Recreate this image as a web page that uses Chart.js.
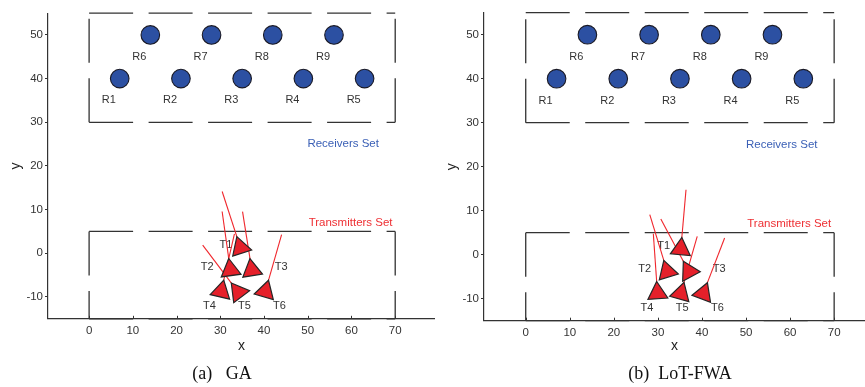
<!DOCTYPE html>
<html>
<head>
<meta charset="utf-8">
<script src="https://cdn.jsdelivr.net/npm/chart.js@4.4.1/dist/chart.umd.min.js"></script>
<style>
  html, body { margin: 0; padding: 0; background: #fff; }
  body { width: 865px; height: 387px; position: relative; overflow: hidden; }
  .panel { position: absolute; top: 0; height: 387px; }
  .caption { position: absolute; top: 363px; font: 18px "Liberation Serif", "DejaVu Serif", serif; color: #111; transform: translateX(-50%); white-space: pre; }
</style>
</head>
<body>
<div class="panel" style="left:0;width:435px"><canvas id="ga" width="435" height="387"></canvas></div>
<div class="panel" style="left:436px;width:429px"><canvas id="fwa" width="429" height="387"></canvas></div>
<div class="caption" style="left:222px">(a)&nbsp;&nbsp; GA</div>
<div class="caption" style="left:680px">(b)&nbsp; LoT-FWA</div>
<script>
// axis ticks
const xTicks = [0, 10, 20, 30, 40, 50, 60, 70];
const yTicks = [-10, 0, 10, 20, 30, 40, 50];

// receivers, same layout in both panels
const rxNames = ['R1', 'R2', 'R3', 'R4', 'R5', 'R6', 'R7', 'R8', 'R9'];
const rxX = [7, 21, 35, 49, 63, 14, 28, 42, 56];
const rxY = [40, 40, 40, 40, 40, 50, 50, 50, 50];

// boundaries of the two sets
const areaX = [0, 70];
const rxAreaY = [30, 55];
const txAreaY = [5, -15];

// transmitter names and where their labels sit
const txNames = ['T1', 'T2', 'T3', 'T4', 'T5', 'T6'];
const txLabelX = [31.3, 27, 43.9, 27.5, 35.5, 43.5];
const txLabelY = [1.9, -3.2, -3.2, -12, -12, -12];

// GA: transmitter positions and beam direction (deg, clockwise from +y)
const gaX = [34.6, 32.3, 37.2, 30.2, 34.1, 40.3];
const gaY = [1.3, -3.8, -3.8, -8.7, -8.9, -8.7];
const gaDir = [-18, -8, -9, 13, -37, 16];

// LoT-FWA: transmitter positions and beam direction
const fwaX = [35.2, 32.1, 37.0, 29.9, 35.2, 40.3];
const fwaY = [1.3, -3.8, -3.8, -8.7, -8.8, -8.8];
const fwaDir = [5, -17, -28, -4, 16, 21];

const beamLen = 13.5;

const FONT = '"Liberation Sans", Arial, Helvetica, sans-serif';
const AXIS = '#333';

// texts drawn in data coordinates, under the marks
const annotations = {
  id: 'annotations',
  beforeDatasetsDraw(chart) {
    const { ctx, scales: { x, y } } = chart;
    ctx.save();
    ctx.textAlign = 'center';
    ctx.textBaseline = 'middle';
    ctx.font = '11px ' + FONT;
    ctx.fillStyle = '#333';
    rxNames.forEach((n, i) => {
      ctx.fillText(n, x.getPixelForValue(rxX[i] - 2.5), y.getPixelForValue(rxY[i] - 5));
    });
    txNames.forEach((n, i) => {
      ctx.fillText(n, x.getPixelForValue(txLabelX[i]), y.getPixelForValue(txLabelY[i]));
    });
    ctx.font = '11.5px ' + FONT;
    ctx.fillStyle = '#3b60b6';
    ctx.fillText('Receivers Set', x.getPixelForValue(58.1), y.getPixelForValue(25));
    ctx.fillStyle = '#ee2f33';
    ctx.fillText('Transmitters Set', x.getPixelForValue(59.8), y.getPixelForValue(7));
    ctx.restore();
  },
  // short inward ticks on the x axis
  afterDraw(chart) {
    const { ctx, scales: { x, y } } = chart;
    const y0 = y.getPixelForValue(y.min);
    ctx.save();
    ctx.strokeStyle = AXIS;
    ctx.lineWidth = 1;
    ctx.beginPath();
    xTicks.forEach(v => {
      const px = Math.round(x.getPixelForValue(v)) + 0.5;
      ctx.moveTo(px, y0);
      ctx.lineTo(px, y0 - 3);
    });
    ctx.stroke();
    ctx.restore();
  }
};

function side(x0, y0, x1, y1) {
  return {
    type: 'line',
    data: [{ x: x0, y: y0 }, { x: x1, y: y1 }],
    borderColor: '#333',
    borderWidth: 1.3,
    borderDash: [44, 15.5],
    pointRadius: 0,
    fill: false,
    clip: false,
    order: 4
  };
}

function makeChart(id, txX, txY, txDir, xMin, xMax, topPad, axisH) {
  const beams = txX.map((tx, i) => {
    const a = txDir[i] * Math.PI / 180;
    return {
      type: 'line',
      data: [{ x: tx, y: txY[i] }, { x: tx + beamLen * Math.sin(a), y: txY[i] + beamLen * Math.cos(a) }],
      borderColor: '#f0262c',
      borderWidth: 1.1,
      pointRadius: 0,
      fill: false,
      order: 2
    };
  });

  const datasets = [
    {
      type: 'scatter',
      data: txX.map((v, i) => ({ x: v, y: txY[i] })),
      pointStyle: 'triangle',
      pointRadius: 11.5,
      pointHoverRadius: 11.5,
      pointRotation: txDir,
      backgroundColor: '#e5202a',
      borderColor: '#262626',
      borderWidth: 1.2,
      order: 1
    },
    ...beams,
    {
      type: 'scatter',
      data: rxX.map((v, i) => ({ x: v, y: rxY[i] })),
      pointRadius: 9.3,
      pointHoverRadius: 9.3,
      backgroundColor: '#2c50a2',
      borderColor: '#1a1a26',
      borderWidth: 1.1,
      order: 3
    },
    side(areaX[0], rxAreaY[0], areaX[1], rxAreaY[0]),
    side(areaX[0], rxAreaY[1], areaX[1], rxAreaY[1]),
    side(areaX[0], rxAreaY[0], areaX[0], rxAreaY[1]),
    side(areaX[1], rxAreaY[0], areaX[1], rxAreaY[1]),
    side(areaX[0], txAreaY[0], areaX[1], txAreaY[0]),
    side(areaX[0], txAreaY[1], areaX[1], txAreaY[1]),
    side(areaX[0], txAreaY[0], areaX[0], txAreaY[1]),
    side(areaX[1], txAreaY[0], areaX[1], txAreaY[1])
  ];

  return new Chart(document.getElementById(id), {
    type: 'scatter',
    data: { datasets },
    options: {
      responsive: false,
      animation: false,
      events: [],
      layout: { autoPadding: false, padding: { left: 0, right: 0, top: topPad, bottom: 0 } },
      plugins: { legend: { display: false }, tooltip: { enabled: false } },
      scales: {
        x: {
          type: 'linear',
          min: xMin,
          max: xMax,
          afterBuildTicks: s => { s.ticks = xTicks.map(v => ({ value: v })); },
          afterFit: s => { s.height = axisH; },
          border: { color: AXIS, width: 1.2 },
          grid: { drawOnChartArea: false, drawTicks: false },
          ticks: { color: '#333', font: { family: FONT, size: 11.5 }, padding: 5, maxRotation: 0, autoSkip: false },
          title: { display: true, text: 'x', color: '#222', font: { family: FONT, size: 14 }, padding: { top: 0, bottom: 32 } }
        },
        y: {
          type: 'linear',
          min: -15,
          max: 55,
          afterBuildTicks: s => { s.ticks = yTicks.map(v => ({ value: v })); },
          afterFit: s => { s.width = 48; },
          border: { color: AXIS, width: 1.2 },
          grid: { drawOnChartArea: false, color: AXIS, tickLength: 3 },
          ticks: { color: '#333', font: { family: FONT, size: 11.5 }, padding: 2, autoSkip: false },
          title: { display: true, text: 'y', color: '#222', font: { family: FONT, size: 14 }, padding: { top: 8, bottom: 0 } }
        }
      }
    },
    plugins: [annotations]
  });
}

makeChart('ga', gaX, gaY, gaDir, -9.4, 79.1, 13.1, 387 - 318.8);
makeChart('fwa', fwaX, fwaY, fwaDir, -9.47, 77.0, 12.7, 387 - 320.7);
</script>
</body>
</html>
